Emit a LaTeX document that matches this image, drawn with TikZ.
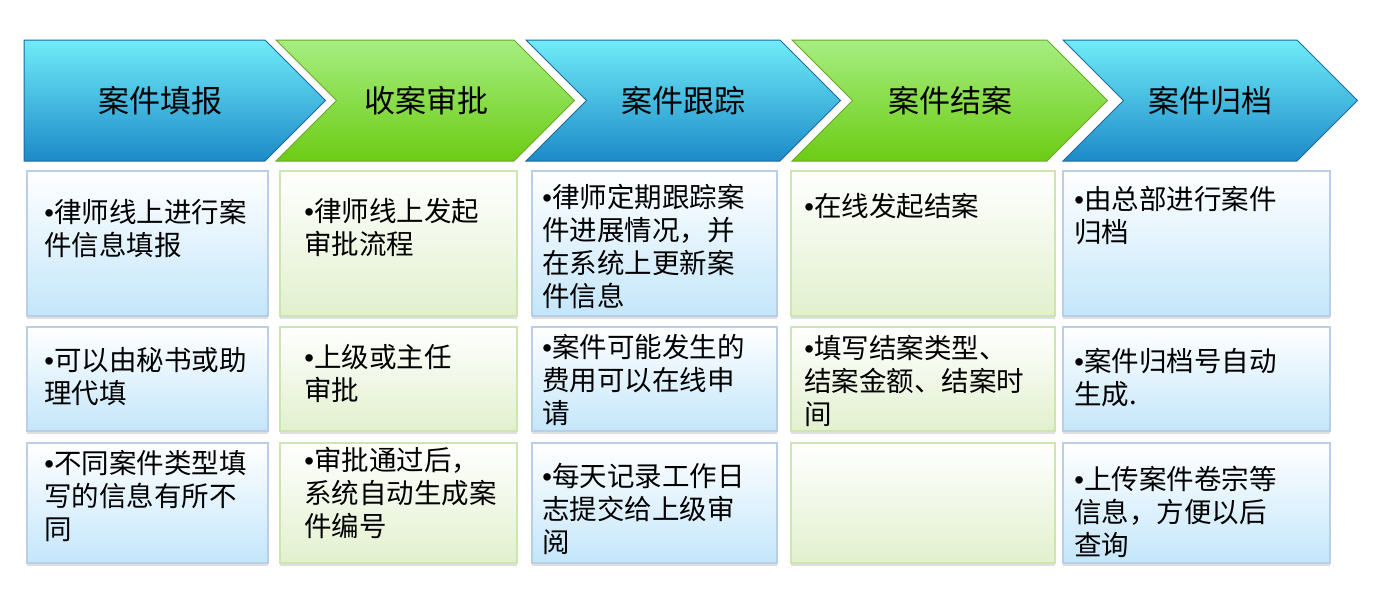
\documentclass[tikz,border=0pt]{standalone}
\usepackage{fontspec}
\setmainfont{Noto Sans CJK SC}
\newfontfamily\bulletfont{Liberation Sans}
\newcommand{\bul}{{\bulletfont •}}
\usetikzlibrary{calc,fit,shadows}
\definecolor{chevbluetop}{RGB}{112,236,248}
\definecolor{chevbluebot}{RGB}{28,138,200}
\definecolor{chevblueline}{RGB}{30,105,155}
\definecolor{chevgreentop}{RGB}{166,238,128}
\definecolor{chevgreenbot}{RGB}{108,204,20}
\definecolor{chevgreenline}{RGB}{104,168,44}
\definecolor{boxbluebot}{RGB}{196,230,250}
\definecolor{boxblueline}{RGB}{186,206,232}
\definecolor{boxgreenbot}{RGB}{226,240,206}
\definecolor{boxgreenline}{RGB}{204,230,176}

\begin{document}
\begin{tikzpicture}[x=1pt,y=-1pt]

\tikzset{bluechev/.style={draw=chevblueline,line width=1pt,top color=chevbluetop,bottom color=chevbluebot},
greenchev/.style={draw=chevgreenline,line width=1pt,top color=chevgreentop,bottom color=chevgreenbot},
title/.style={font=\fontsize{31}{31}\selectfont,inner sep=0pt},
bluebox/.style={draw=boxblueline,line width=1.5pt,top color=white,bottom color=boxbluebot,inner sep=0pt,drop shadow={shadow xshift=0pt,shadow yshift=-3pt,fill=black!25,opacity=0.5}},
greenbox/.style={draw=boxgreenline,line width=1.5pt,top color=white,bottom color=boxgreenbot,inner sep=0pt,drop shadow={shadow xshift=0pt,shadow yshift=-3pt,fill=black!25,opacity=0.5}},
item/.style={font=\fontsize{27.5}{33}\selectfont,inner sep=0pt,anchor=north west,align=left}}

\useasboundingbox (0,0) rectangle (1376,608);

% Chevrons
\draw[bluechev] (24,40) -- (265,40) -- (325.5,100.5) -- (265,161) -- (24,161) -- cycle;
\foreach \l/\r/\kind in {276/514/greenchev, 526/780/bluechev, 792/1047/greenchev, 1063/1297/bluechev}
  \draw[\kind] (\l,40) -- (\r,40) -- ({\r+60.5},100.5) -- (\r,161) -- (\l,161) -- ({\l+60.5},100.5) -- cycle;

% Titles
\foreach \n/\x/\txt in {1/160/案件填报, 2/426/收案审批, 3/683/案件跟踪, 4/950/案件结案, 5/1210/案件归档}
  \node[title] (t\n) at (\x,100.5) {\txt};

% Boxes
\foreach \c/\xl/\xr/\kind in {1/27/268/bluebox, 2/280/517/greenbox, 3/532/777/bluebox, 4/791/1055/greenbox, 5/1063/1330/bluebox}
  \foreach \r/\yt/\yb in {1/171/316, 2/327/431, 3/443/563}
    \node[\kind, fit={(\xl,\yt) (\xr,\yb)}] (b\c\r) {};

% Items
\node[item] (i11) at ($(b11.north west)+(18,28.5)$) {\bul{}律师线上进行案\\件信息填报};
\node[item] (i21) at ($(b21.north west)+(25,27.5)$) {\bul{}律师线上发起\\审批流程};
\node[item] (i31) at ($(b31.north west)+(11,13.5)$) {\bul{}律师定期跟踪案\\件进展情况，并\\在系统上更新案\\件信息};
\node[item] (i41) at ($(b41.north west)+(14,22.5)$) {\bul{}在线发起结案};
\node[item] (i51) at ($(b51.north west)+(12,15.5)$) {\bul{}由总部进行案件\\归档};

\node[item] (i12) at ($(b12.north west)+(18,20.5)$) {\bul{}可以由秘书或助\\理代填};
\node[item] (i22) at ($(b22.north west)+(25,17.5)$) {\bul{}上级或主任\\审批};
\node[item] (i32) at ($(b32.north west)+(11,7.5)$) {\bul{}案件可能发生的\\费用可以在线申\\请};
\node[item] (i42) at ($(b42.north west)+(14,8.5)$) {\bul{}填写结案类型、\\结案金额、结案时\\间};
\node[item] (i52) at ($(b52.north west)+(12,21.5)$) {\bul{}案件归档号自动\\生成.};

\node[item] (i13) at ($(b13.north west)+(18,7.5)$) {\bul{}不同案件类型填\\写的信息有所不\\同};
\node[item] (i23) at ($(b23.north west)+(25,4.5)$) {\bul{}审批通过后，\\系统自动生成案\\件编号};
\node[item] (i33) at ($(b33.north west)+(11,20.5)$) {\bul{}每天记录工作日\\志提交给上级审\\阅};
\node[item] (i53) at ($(b53.north west)+(12,23.5)$) {\bul{}上传案件卷宗等\\信息，方便以后\\查询};

\end{tikzpicture}
\end{document}
